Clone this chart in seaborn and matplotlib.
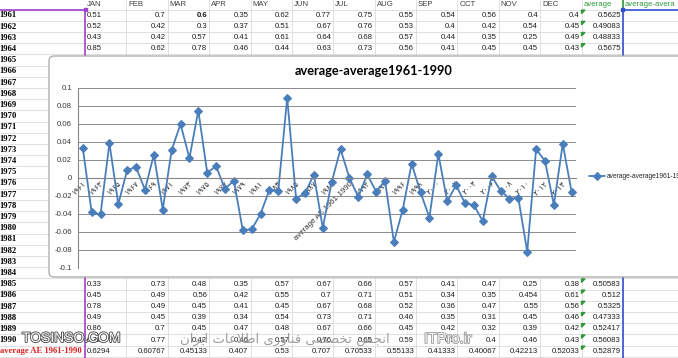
import matplotlib
matplotlib.use("Agg")
import matplotlib.pyplot as plt
import matplotlib.patheffects as pe
from matplotlib.patches import FancyBboxPatch, Polygon, Rectangle
import pandas as pd
import seaborn as sns

# ---- chart data -------------------------------------------------------------
categories = [str(y) for y in range(1961, 1991)] + ["average AE 1961-1990"] + [str(y) for y in range(1991, 2016)]
values = [
    0.03371, -0.03796, -0.04046, 0.03871, -0.029, 0.009, 0.012, -0.013, 0.026, -0.035,
    0.031, 0.060, 0.022, 0.075, 0.006, 0.013, -0.012, -0.003, -0.058, -0.057,
    -0.040, -0.013, -0.014, 0.089, -0.02296, -0.01679, 0.00371, -0.05546, -0.00462, 0.03204,
    0.0,
    -0.021, 0.004, -0.015, -0.003, -0.071, -0.035, 0.016, -0.016, -0.044, 0.027,
    -0.026, -0.008, -0.028, -0.030, -0.048, 0.002, -0.014, -0.023, -0.022, -0.082,
    0.032, 0.019, -0.030, 0.038, -0.016,
]
y_ticks = [-0.1, -0.08, -0.06, -0.04, -0.02, 0, 0.02, 0.04, 0.06, 0.08, 0.1]
y_tick_labels = ["-0.1", "-0.08", "-0.06", "-0.04", "-0.02", "0", "0.02", "0.04", "0.06", "0.08", "0.1"]
series_name = "average-average1961-1990"

# ---- spreadsheet data ---------------------------------------------------------
headers = ["JAN", "FEB", "MAR", "APR", "MAY", "JUN", "JUL", "AUG", "SEP", "OCT", "NOV", "DEC",
           "average", "average-avera"]
top_years = ["1961", "1962", "1963", "1964"]
top_rows = [
    ["0.51", "0.7", "0.6", "0.35", "0.62", "0.77", "0.75", "0.55", "0.54", "0.56", "0.4", "0.4", "0.5625"],
    ["0.52", "0.42", "0.3", "0.37", "0.51", "0.67", "0.76", "0.53", "0.4", "0.42", "0.54", "0.45", "0.49083"],
    ["0.43", "0.42", "0.57", "0.41", "0.61", "0.64", "0.68", "0.57", "0.44", "0.35", "0.25", "0.49", "0.48833"],
    ["0.85", "0.62", "0.78", "0.46", "0.44", "0.63", "0.73", "0.56", "0.41", "0.45", "0.45", "0.43", "0.5675"],
]
mid_years = [str(y) for y in range(1965, 1985)]
bottom_years = ["1985", "1986", "1987", "1988", "1989", "1990", "average AE 1961-1990"]
bottom_rows = [
    ["0.33", "0.73", "0.48", "0.35", "0.57", "0.67", "0.66", "0.57", "0.41", "0.47", "0.25", "0.38", "0.50583"],
    ["0.45", "0.49", "0.56", "0.42", "0.55", "0.7", "0.71", "0.51", "0.34", "0.35", "0.454", "0.61", "0.512"],
    ["0.78", "0.49", "0.45", "0.41", "0.45", "0.67", "0.68", "0.52", "0.36", "0.47", "0.55", "0.56", "0.5325"],
    ["0.49", "0.45", "0.39", "0.34", "0.54", "0.73", "0.71", "0.46", "0.35", "0.31", "0.45", "0.46", "0.47333"],
    ["0.86", "0.7", "0.45", "0.47", "0.48", "0.67", "0.66", "0.45", "0.42", "0.32", "0.39", "0.42", "0.52417"],
    ["0.72", "0.77", "0.42", "0.46", "0.57", "0.76", "0.65", "0.59", "0.5", "0.4", "0.46", "0.43", "0.56083"],
    ["0.6294", "0.60767", "0.45133", "0.407", "0.53", "0.707", "0.70533", "0.55133", "0.41333",
     "0.40067", "0.42213", "0.52033", "0.52879"],
]
watermark_fa = "انجمن تخصصی فناوری اطلاعات ایران"

# ---- helpers ----------------------------------------------------------------
FA_DIGITS = str.maketrans("0123456789", "۰۱۲۳۴۵۶۷۸۹")

# isolated, final, initial, medial presentation forms
FORMS = {
    "ا": ("\uFE8D", "\uFE8E", None, None),
    "ن": ("\uFEE5", "\uFEE6", "\uFEE7", "\uFEE8"),
    "ج": ("\uFE9D", "\uFE9E", "\uFE9F", "\uFEA0"),
    "م": ("\uFEE1", "\uFEE2", "\uFEE3", "\uFEE4"),
    "ت": ("\uFE95", "\uFE96", "\uFE97", "\uFE98"),
    "خ": ("\uFEA5", "\uFEA6", "\uFEA7", "\uFEA8"),
    "ص": ("\uFEB9", "\uFEBA", "\uFEBB", "\uFEBC"),
    "ی": ("\uFBFC", "\uFBFD", "\uFBFE", "\uFBFF"),
    "ف": ("\uFED1", "\uFED2", "\uFED3", "\uFED4"),
    "و": ("\uFEED", "\uFEEE", None, None),
    "ر": ("\uFEAD", "\uFEAE", None, None),
    "ط": ("\uFEC1", "\uFEC2", "\uFEC3", "\uFEC4"),
    "ل": ("\uFEDD", "\uFEDE", "\uFEDF", "\uFEE0"),
    "ع": ("\uFEC9", "\uFECA", "\uFECB", "\uFECC"),
    "لا": ("\uFEFB", "\uFEFC", None, None),
}


def shape_fa(text):
    # crude persian shaping + visual reordering, matplotlib has no bidi
    tokens, i = [], 0
    while i < len(text):
        if text[i] == "ل" and i + 1 < len(text) and text[i + 1] == "ا":
            tokens.append("لا")
            i += 2
        else:
            tokens.append(text[i])
            i += 1
    out = []
    for j, t in enumerate(tokens):
        if t not in FORMS:
            out.append(t)
            continue
        prev = tokens[j - 1] if j > 0 else None
        nxt = tokens[j + 1] if j + 1 < len(tokens) else None
        jp = prev in FORMS and FORMS[prev][2] is not None
        jn = FORMS[t][2] is not None and nxt in FORMS
        iso, fin, ini, med = FORMS[t]
        out.append(med if (jp and jn) else fin if jp else ini if jn else iso)
    return "".join(reversed(out))


# ---- layout (pixels) ----------------------------------------------------------
W, H = 678, 358
ROW0, ROW_H = 9.5, 11.2
COL0, COL_W = 85, 41.38
LINE = "#4A7EBB"

sns.set_style("white")
plt.rcParams["font.family"] = ["Liberation Sans", "DejaVu Sans"]

fig = plt.figure(figsize=(W / 100, H / 100), dpi=100)
bg = fig.add_axes([0, 0, 1, 1])
bg.set_xlim(0, W)
bg.set_ylim(H, 0)
bg.axis("off")

# sheet grid
for k in range(0, 32):
    y = ROW0 + ROW_H * k
    bg.plot([0, W], [y, y], color="#DADADA", lw=0.6, zorder=1)
for k in range(1, 14):
    x = COL0 + COL_W * k
    bg.plot([x, x], [0, H], color="#DADADA", lw=0.6, zorder=1)


def row_y(i):
    return ROW0 + ROW_H * (i + 0.5) + 0.3


cell_font = dict(fontsize=5.6, va="center", color="#1E1E1E", zorder=4)
label_font = dict(fontsize=6.2, va="center", ha="left", family="Liberation Serif",
                  fontweight="bold", zorder=4)

for k, name in enumerate(headers):
    col = "#2E9A3A" if name.startswith("average") else "#404040"
    bg.text(COL0 + COL_W * k + 2, 4.3, name, ha="left", fontsize=5.6, va="center", color=col, zorder=4)


def draw_row(i, year, row):
    red = year.startswith("average")
    bg.text(-0.5, row_y(i), year, color="#E02020" if red else "black", **label_font)
    for k, v in enumerate(row):
        weight = "bold" if (year == "1961" and k == 2) else "normal"
        if k == 0:
            bg.text(COL0 + 2, row_y(i), v, ha="left", fontweight=weight, **cell_font)
        else:
            bg.text(COL0 + COL_W * (k + 1) - 2, row_y(i), v, ha="right", fontweight=weight, **cell_font)
    top = ROW0 + ROW_H * i
    bg.add_patch(Polygon([(581.5, top + 0.6), (585, top + 0.6), (581.5, top + 4)],
                         closed=True, color="#2E9A3A", zorder=4))


for i, (year, row) in enumerate(zip(top_years, top_rows)):
    draw_row(i, year, row)
for i, year in enumerate(mid_years):
    bg.text(-0.5, row_y(i + 4), year, color="black", **label_font)
for i, (year, row) in enumerate(zip(bottom_years, bottom_rows)):
    draw_row(i + 24, year, row)

# chart data highlight ranges
bg.plot([0, 85], [ROW0, ROW0], color="#A040C8", lw=1.2, zorder=2)
bg.plot([85, 85], [ROW0, H], color="#A040C8", lw=1.2, zorder=2)
bg.add_patch(Rectangle((83.5, ROW0 - 1.5), 3, 3, color="#A040C8", zorder=2))
bg.plot([622.5, W], [ROW0, ROW0], color="#3050D0", lw=1.2, zorder=2)
bg.plot([622.5, 622.5], [ROW0, H], color="#3050D0", lw=1.2, zorder=2)
bg.plot([622.5, 622.5], [0, ROW0], color="#2E9A3A", lw=1.2, zorder=2)
bg.add_patch(Rectangle((621, ROW0 - 1.5), 3, 3, color="#3050D0", zorder=2))

# chart area
bg.add_patch(FancyBboxPatch((49, 56), 700, 221, boxstyle="round,pad=0,rounding_size=5",
                            fc="white", ec="#A8A8A8", lw=0.9, zorder=5))

# watermarks
bg.text(22, 338, "TOSINSO.COM", fontsize=10, color="white", va="center", ha="left", zorder=8,
        path_effects=[pe.withStroke(linewidth=1.3, foreground="#505050")])
bg.text(390, 339.5, shape_fa(watermark_fa), family="DejaVu Sans", fontsize=9.5, color="#8C8C8C",
        alpha=0.85, va="center", ha="right", zorder=8)
bg.text(424, 339, "ITPro.ir", fontsize=10.5, color="#F4F4F4", va="center", ha="left", zorder=8,
        path_effects=[pe.withStroke(linewidth=1.2, foreground="#9A9A9A")])

# ---- the line chart -----------------------------------------------------------
ax = fig.add_axes([78.3 / W, 1 - 268 / H, 497.8 / W, 180 / H])
ax.set_facecolor("none")
df = pd.DataFrame({"category": categories, "value": values})
sns.lineplot(data=df, x="category", y="value", sort=False, ax=ax, color=LINE, lw=1.3,
             marker="D", markersize=4.2, markeredgecolor=LINE, label=series_name)

ax.set_xlim(-0.5, len(categories) - 0.5)
ax.set_ylim(-0.1, 0.1)
ax.set_xlabel("")
ax.set_ylabel("")

ax.set_yticks(y_ticks)
ax.set_yticklabels(y_tick_labels)
ax.tick_params(axis="y", length=3, color="#868686", labelsize=5.6, labelcolor="#383838", pad=1.5)
ax.yaxis.grid(True, color="#8C8C8C", lw=0.7)
ax.set_axisbelow(True)

tick_pos = list(range(0, len(categories), 2))
tick_lab = [c if c.startswith("average") else c.translate(FA_DIGITS) for c in categories[::2]]
ax.set_xticks(tick_pos)
ax.set_xticklabels(tick_lab, family=["Liberation Sans", "DejaVu Sans"])
ax.set_xticks([k - 0.5 for k in range(len(categories) + 1)], minor=True)
ax.tick_params(axis="x", which="major", length=0, labelsize=5.6, labelcolor="#303030", pad=1.5,
               labelrotation=45)
ax.tick_params(axis="x", which="minor", length=3, direction="inout", color="#868686")

for s in ["top", "right"]:
    ax.spines[s].set_visible(False)
ax.spines["left"].set_color("#868686")
ax.spines["bottom"].set_color("#868686")
ax.spines["bottom"].set_position(("data", 0))

ax.legend(loc="center left", bbox_to_anchor=(589 / W, 1 - 177 / H), bbox_transform=fig.transFigure,
          frameon=False, fontsize=4.8, handlelength=2.4, handletextpad=0.25, borderpad=0,
          borderaxespad=0)

fig.text(374 / W, 1 - 71 / H, series_name, ha="center", va="center", fontsize=9.2,
         fontweight="bold", family=["Lato", "DejaVu Sans"], color="black")

for lab in ax.get_xticklabels():
    lab.set_ha("right")
    lab.set_va("top")
    lab.set_rotation_mode("anchor")

fig.savefig("out.png", dpi=100)
plt.close(fig)
